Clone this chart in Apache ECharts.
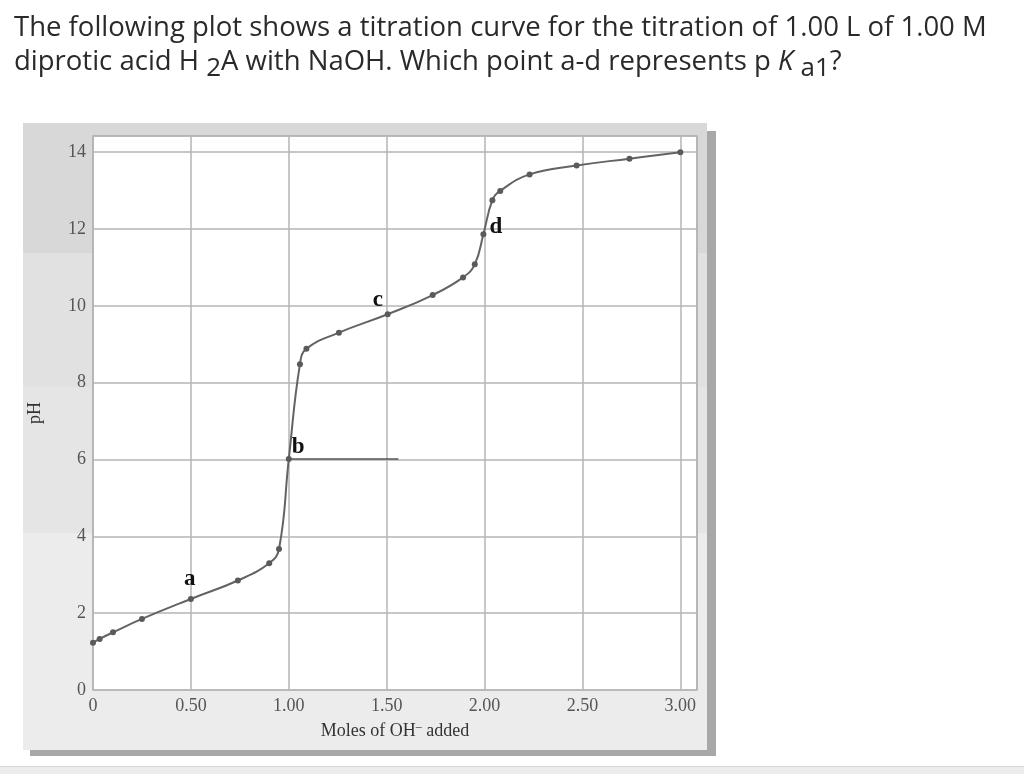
<!DOCTYPE html>
<html>
<head>
<meta charset="utf-8">
<script src="https://cdn.jsdelivr.net/npm/echarts@6/dist/echarts.min.js"></script>
<style>
html,body{margin:0;padding:0;background:#fff;}
#chart{width:1024px;height:774px;}
</style>
</head>
<body>
<div id="chart"></div>
<script>
// ---- data ----
const molesOH = [0, 0.034, 0.102, 0.25, 0.50, 0.74, 0.90, 0.95, 1.00, 1.057, 1.09, 1.256, 1.505, 1.735, 1.89, 1.95, 1.994, 2.04, 2.08, 2.23, 2.47, 2.74, 3.00];
const pHValues = [1.23, 1.33, 1.50, 1.85, 2.37, 2.85, 3.30, 3.67, 6.01, 8.48, 8.88, 9.30, 9.78, 10.28, 10.74, 11.08, 11.86, 12.75, 12.99, 13.42, 13.65, 13.83, 14.00];
const pointNames = ['a', 'b', 'c', 'd'];
const pointIndex = [4, 8, 12, 16];
const refLineX = [1.00, 1.56];
const refLineY = [6.01, 6.01];
const xTickValues = [0, 0.5, 1.0, 1.5, 2.0, 2.5, 3.0];
const yTickValues = [0, 2, 4, 6, 8, 10, 12, 14];
const titleLine1 = 'The following plot shows a titration curve for the titration of 1.00 L of 1.00 M';
const xAxisTitle = 'Moles of OH{sup|\u2012} added';
const yAxisTitle = 'pH';

// label placement (style only)
const labelOffsets = [[-4, -28], [6, -21], [-12, -23], [9, -16]];

const chart = echarts.init(document.getElementById('chart'));
const serif = '"Liberation Serif", "DejaVu Serif", serif';
const sans = '"Open Sans", "Noto Sans", sans-serif';

const lineData = molesOH.map((x, i) => {
  const k = pointIndex.indexOf(i);
  if (k < 0) return [x, pHValues[i]];
  return {
    value: [x, pHValues[i]],
    label: {
      show: true,
      formatter: pointNames[k],
      position: labelOffsets[k],
      fontFamily: serif,
      fontWeight: 'bold',
      fontSize: 23,
      color: '#111111'
    }
  };
});

const bands = [
  {y: 123, h: 130, c: '#d8d8d8'},
  {y: 253, h: 134, c: '#e1e1e1'},
  {y: 387, h: 146, c: '#e5e5e5'},
  {y: 533, h: 217, c: '#ececec'}
];

const graphics = [
  {type: 'rect', shape: {x: 30, y: 750, width: 686, height: 6}, style: {fill: '#a8a8a8'}, z: -10},
  {type: 'rect', shape: {x: 707, y: 131, width: 9, height: 625}, style: {fill: '#a8a8a8'}, z: -10},
  {type: 'rect', shape: {x: 0, y: 767, width: 1024, height: 7}, style: {fill: '#ececec'}, z: -10},
  {type: 'rect', shape: {x: 0, y: 766, width: 1024, height: 1}, style: {fill: '#d6d6d6'}, z: -10}
].concat(bands.map(b => ({
  type: 'rect', shape: {x: 23, y: b.y, width: 684, height: b.h}, style: {fill: b.c}, z: -9
})));

const fmtX = v => {
  if (!xTickValues.some(t => Math.abs(t - v) < 1e-6)) return '';
  return v === 0 ? '0' : v.toFixed(2);
};
const fmtY = v => yTickValues.some(t => Math.abs(t - v) < 1e-6) ? String(v) : '';

chart.setOption({
  backgroundColor: '#ffffff',
  animation: false,
  title: {
    left: 9,
    top: 6,
    text: titleLine1 + '\ndiprotic acid H {sub|2}A with NaOH. Which point a-d represents p {it|K} {sub|a1}?',
    textStyle: {
      fontFamily: sans,
      fontSize: 27.5,
      fontWeight: 'normal',
      color: '#2a2a2a',
      lineHeight: 34,
      rich: {
        sub: {
          fontFamily: sans,
          fontSize: 26,
          color: '#2a2a2a',
          padding: [13, 0, 0, 0],
          lineHeight: 34
        },
        it: {
          fontFamily: sans,
          fontSize: 27.5,
          fontStyle: 'italic',
          color: '#2a2a2a',
          lineHeight: 34
        }
      }
    }
  },
  graphic: graphics,
  grid: {
    left: 93,
    top: 136,
    right: 327,
    bottom: 84,
    show: true,
    backgroundColor: '#ffffff',
    borderColor: '#9a9a9a',
    borderWidth: 1.2
  },
  xAxis: {
    type: 'value',
    min: 0,
    max: 3.085,
    interval: 0.5,
    name: xAxisTitle,
    nameLocation: 'middle',
    nameGap: 31,
    nameTextStyle: {
      fontFamily: serif, fontSize: 18, color: '#333',
      rich: {sup: {fontFamily: serif, fontSize: 12, color: '#333', padding: [0, 0, 8, 0]}}
    },
    axisLine: {show: false},
    axisTick: {show: false},
    axisLabel: {formatter: fmtX, fontFamily: serif, fontSize: 18, color: '#555', margin: 7},
    splitLine: {show: true, lineStyle: {color: '#b4b4b4', width: 1.5}}
  },
  yAxis: {
    type: 'value',
    min: 0,
    max: 14.42,
    interval: 2,
    name: yAxisTitle,
    nameLocation: 'middle',
    nameGap: 49,
    nameTextStyle: {fontFamily: serif, fontSize: 18, color: '#333'},
    axisLine: {show: false},
    axisTick: {show: false},
    axisLabel: {formatter: fmtY, fontFamily: serif, fontSize: 18, color: '#555', margin: 7},
    splitLine: {show: true, lineStyle: {color: '#b4b4b4', width: 1.5}}
  },
  series: [
    {
      type: 'line',
      data: lineData,
      smooth: 0.45,
      symbol: 'circle',
      symbolSize: 6,
      itemStyle: {color: '#5a5a5a'},
      lineStyle: {color: '#636363', width: 2},
      z: 5
    },
    {
      type: 'line',
      data: refLineX.map((x, i) => [x, refLineY[i]]),
      symbol: 'none',
      lineStyle: {color: '#555555', width: 1.5},
      z: 4
    }
  ]
});
</script>
</body>
</html>
